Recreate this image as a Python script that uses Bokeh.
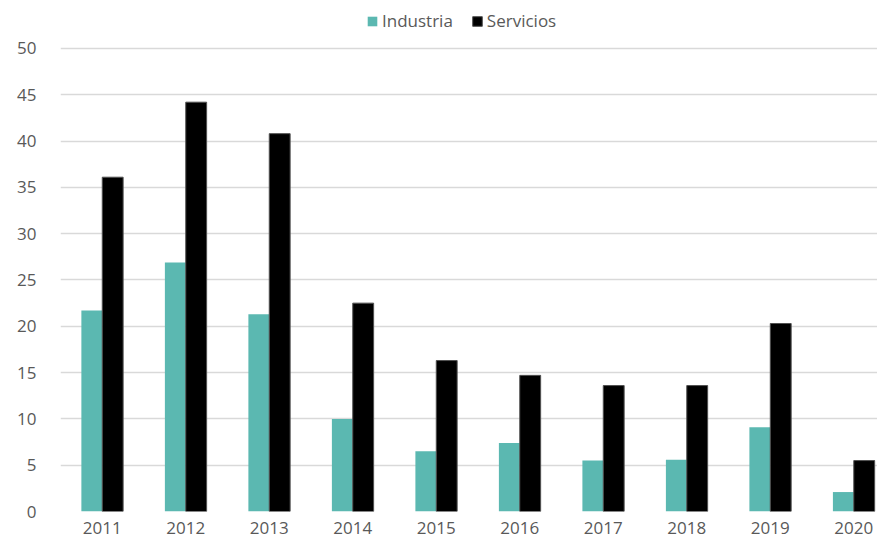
from bokeh.plotting import figure
from bokeh.models import Range1d, FixedTicker, Legend, LegendItem, ColumnDataSource
from bokeh.transform import dodge
from bokeh.embed import file_html
from bokeh.resources import INLINE

years = ["2011", "2012", "2013", "2014", "2015", "2016", "2017", "2018", "2019", "2020"]
industria = [21.7, 26.9, 21.3, 10.0, 6.5, 7.4, 5.5, 5.6, 9.1, 2.1]
servicios = [36.1, 44.2, 40.8, 22.5, 16.3, 14.7, 13.6, 13.6, 20.3, 5.5]
y_ticks = [0, 5, 10, 15, 20, 25, 30, 35, 40, 45, 50]

FONT = "Open Sans"
TXT = "#595959"

pos = list(range(len(years)))
src = ColumnDataSource(dict(x=pos, ind=industria, serv=servicios))

p = figure(width=877, height=539, output_backend="svg", toolbar_location=None,
           x_range=Range1d(-0.5, 9.284), y_range=Range1d(0, 55.18),
           min_border_left=60, min_border_right=0, min_border_top=0, min_border_bottom=28)
p.outline_line_color = None
p.background_fill_color = "white"

r1 = p.vbar(x=dodge("x", -0.125), top="ind", width=0.25, source=src,
            fill_color="#5BB8B1", line_color=None)
r2 = p.vbar(x=dodge("x", 0.125), top="serv", width=0.25, source=src,
            fill_color="#000000", line_color="#505050", line_width=1)

p.xgrid.grid_line_color = None
p.ygrid.ticker = FixedTicker(ticks=y_ticks)
p.ygrid.grid_line_color = "#D9D9D9"
p.ygrid.grid_line_width = 1.5
p.ygrid.level = "underlay"

p.yaxis.ticker = FixedTicker(ticks=y_ticks)
p.xaxis.ticker = FixedTicker(ticks=pos)
p.xaxis.major_label_overrides = {i: y for i, y in zip(pos, years)}
for ax in (p.xaxis, p.yaxis):
    ax.axis_line_color = None
    ax.major_tick_line_color = None
    ax.minor_tick_line_color = None
    ax.major_label_text_font = FONT
    ax.major_label_text_font_size = "17px"
    ax.major_label_text_color = TXT
p.yaxis.major_label_standoff = 18
p.xaxis.major_label_standoff = 4

legend = Legend(items=[LegendItem(label="Industria", renderers=[r1]),
                       LegendItem(label="Servicios", renderers=[r2])],
                orientation="horizontal", location=(306, 479),
                glyph_width=12, glyph_height=12, spacing=18, padding=0, margin=0,
                label_text_font=FONT, label_text_font_size="17px", label_text_color=TXT,
                label_standoff=4, border_line_color=None, background_fill_alpha=0)
p.add_layout(legend, "center")

open("out.html", "w").write(file_html(p, INLINE))
